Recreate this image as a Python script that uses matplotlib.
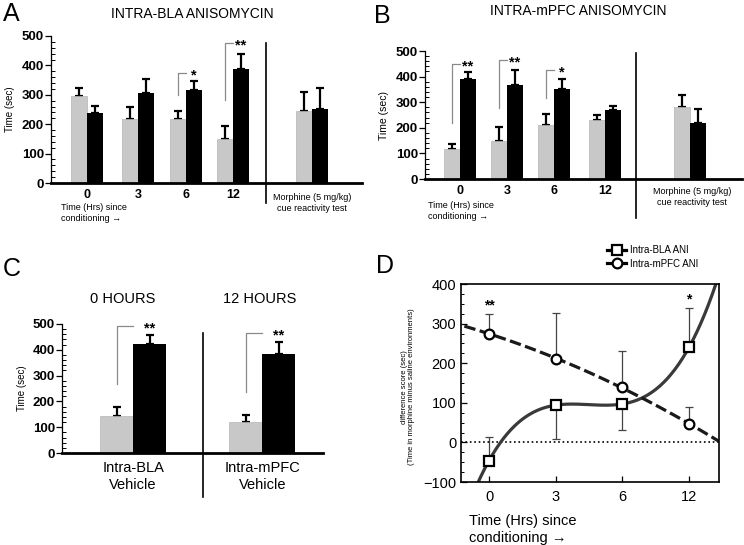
import numpy as np
import matplotlib.pyplot as plt
from matplotlib.lines import Line2D
from matplotlib.ticker import MultipleLocator

plt.rcParams['font.family'] = ['Liberation Sans', 'DejaVu Sans']

GRAY = '#c8c8c8'
BRACKET = '#8a8a8a'

# ---- data -------------------------------------------------------------
hours = ['0', '3', '6', '12']
morph_test = 'Morphine (5 mg/kg)\ncue reactivity test'

# A: intra-BLA anisomycin (gray = saline side, black = morphine side)
a_gray = [295, 217, 217, 151, 244]
a_gray_err = [29, 42, 27, 42, 66]
a_black = [239, 307, 316, 389, 253]
a_black_err = [22, 46, 31, 51, 69]
a_sig = [(2, 299, 375, '*'), (3, 282, 475, '**')]

# B: intra-mPFC anisomycin
b_gray = [117, 150, 210, 229, 282]
b_gray_err = [19, 52, 44, 22, 47]
b_black = [389, 368, 350, 269, 218]
b_black_err = [28, 59, 41, 16, 55]
b_sig = [(0, 218, 448, '**'), (1, 276, 464, '**'), (2, 317, 425, '*')]

# C: vehicle controls
c_groups = ['Intra-BLA\nVehicle', 'Intra-mPFC\nVehicle']
c_titles = ['0 HOURS', '12 HOURS']
c_gray = [142, 120]
c_gray_err = [36, 26]
c_black = [423, 384]
c_black_err = [33, 45]
c_sig = [(0, 267, 491, '**'), (1, 235, 465, '**')]

# D: difference scores
d_bla = [-46, 94, 97, 240]
d_bla_lo = [0, 85, 65, 0]
d_bla_hi = [60, 0, 0, 99]
d_mpfc = [275, 211, 139, 47]
d_mpfc_hi = [50, 115, 93, 43]
d_sig = [(0, 345, '**'), (3, 362, '*')]


fig = plt.figure(figsize=(7.44, 5.45), dpi=100)


def px(l, t, r, b):
    W, H = 744.0, 545.0
    return [l / W, (H - b) / H, (r - l) / W, (b - t) / H]


def bar_panel(ax, pos, g, ge, k, ke, w, sig):
    pos = np.asarray(pos, dtype=float)
    n = len(g)
    ax.bar(pos[:n] - w / 2, g, w, color=GRAY, edgecolor='#b5b5b5', lw=0.5, zorder=2)
    ax.bar(pos[:n] + w / 2, k, w, color='black', zorder=2)
    for xs, v, e in ((pos[:n] - w / 2, g, ge), (pos[:n] + w / 2, k, ke)):
        ax.errorbar(xs, v, yerr=[np.zeros(n), e], fmt='none', ecolor='black',
                    elinewidth=1.6, capsize=3, capthick=1.6, zorder=1)
    for i, y0, y1, s in sig:
        xg = pos[i] - w / 2
        ax.plot([xg, xg, pos[i]], [y0, y1, y1], color=BRACKET, lw=0.9)
        ax.text(pos[i] + w / 2, y1 - 8, s, ha='center', va='center',
                fontsize=10.5, fontweight='bold')
    ax.set_ylim(0, 500)
    ax.spines[['top', 'right']].set_visible(False)
    ax.spines['bottom'].set_linewidth(2)
    ax.spines['left'].set_linewidth(0.9)
    ax.yaxis.set_major_locator(MultipleLocator(100))
    ax.yaxis.set_minor_locator(MultipleLocator(20))
    ax.tick_params(axis='y', which='major', direction='out', length=4, width=0.9,
                   labelsize=9.5, pad=1)
    ax.tick_params(axis='y', which='minor', direction='in', length=3, width=0.7)
    ax.tick_params(axis='x', length=0, labelsize=9, pad=4)
    for lab in ax.get_yticklabels():
        lab.set_fontweight('bold')


# ---- A ----------------------------------------------------------------
ax_a = fig.add_axes(px(51, 36, 362, 183))
a_pos = [0, 1.06, 2.06, 3.04, 4.69]
bar_panel(ax_a, a_pos, a_gray, a_gray_err, a_black, a_black_err, 0.33, a_sig)
ax_a.set_xlim(-0.75, 5.73)
ax_a.set_xticks(a_pos[:4], hours, fontweight='bold')
ax_a.axvline(3.73, ymin=-0.136, ymax=0.952, color='black', lw=1.2, clip_on=False)
ax_a.text(a_pos[4], -0.136, morph_test, transform=ax_a.get_xaxis_transform(),
          ha='center', va='center', fontsize=6.5, linespacing=1.2)
ax_a.text(-0.54, -0.205, 'Time (Hrs) since\nconditioning \u2192',
          transform=ax_a.get_xaxis_transform(), ha='left', va='center',
          fontsize=6.5, linespacing=1.2)
ax_a.set_ylabel('Time (sec)', fontsize=7, labelpad=5)
fig.text(192 / 744, 0.974, 'INTRA-BLA ANISOMYCIN', ha='center', va='center', fontsize=10)

# ---- B ----------------------------------------------------------------
ax_b = fig.add_axes(px(425, 51, 742, 179))
b_pos = [0, 0.98, 1.96, 3.02, 4.79]
bar_panel(ax_b, b_pos, b_gray, b_gray_err, b_black, b_black_err, 0.33, b_sig)
ax_b.set_xlim(-0.73, 5.875)
ax_b.set_xticks(b_pos[:4], hours, fontweight='bold')
ax_b.axvline(3.67, ymin=-0.305, ymax=0.984, color='black', lw=1.2, clip_on=False)
ax_b.text(4.83, -0.14, morph_test, transform=ax_b.get_xaxis_transform(),
          ha='center', va='center', fontsize=6.5, linespacing=1.2)
ax_b.text(-0.67, -0.25, 'Time (Hrs) since\nconditioning \u2192',
          transform=ax_b.get_xaxis_transform(), ha='left', va='center',
          fontsize=6.5, linespacing=1.2)
ax_b.set_ylabel('Time (sec)', fontsize=7.5, labelpad=5)
fig.text(578 / 744, 0.98, 'INTRA-mPFC ANISOMYCIN', ha='center', va='center', fontsize=10)

# ---- C ----------------------------------------------------------------
ax_c = fig.add_axes(px(62, 324, 323, 453))
c_pos = [0, 1]
bar_panel(ax_c, c_pos, c_gray, c_gray_err, c_black, c_black_err, 0.256, c_sig)
ax_c.set_xlim(-0.55, 1.47)
ax_c.set_xticks(c_pos, c_groups)
ax_c.tick_params(axis='x', labelsize=10.5, pad=6)
ax_c.axvline(0.54, ymin=-0.34, ymax=0.93, color='black', lw=1.2, clip_on=False)
ax_c.set_ylabel('Time (sec)', fontsize=7, labelpad=4)
for x, t in zip([-0.08, 0.98], c_titles):
    ax_c.text(x, 1.19, t, transform=ax_c.get_xaxis_transform(), ha='center',
              va='center', fontsize=10.5)

# ---- D ----------------------------------------------------------------
ax_d = fig.add_axes(px(461, 284, 719, 482))
d_pos = np.arange(len(hours))
xx = np.linspace(-0.6, 3.6, 300)
ax_d.plot(xx, np.polyval(np.polyfit(d_pos, d_bla, 3), xx), color='#3a3a3a', lw=2.3, zorder=2)
ax_d.plot(xx, np.polyval(np.polyfit(d_pos, d_mpfc, 2), xx), color='#1a1a1a', lw=2.3,
          dashes=(3.6, 1.4), zorder=2)
ax_d.errorbar(d_pos, d_bla, yerr=[d_bla_lo, d_bla_hi], fmt='none', ecolor='#444444',
              elinewidth=0.9, capsize=3, capthick=0.9, zorder=1)
ax_d.errorbar(d_pos, d_mpfc, yerr=[np.zeros(4), d_mpfc_hi], fmt='none', ecolor='#444444',
              elinewidth=0.9, capsize=3, capthick=0.9, zorder=1)
ax_d.plot(d_pos, d_bla, 's', ms=6.5, mfc='white', mec='black', mew=1.6, zorder=3)
ax_d.plot(d_pos, d_mpfc, 'o', ms=7, mfc='white', mec='black', mew=1.6, zorder=3)
ax_d.axhline(0, color='black', ls=':', lw=1.2, zorder=1)
for i, y, s in d_sig:
    ax_d.text(i, y, s, ha='center', va='center', fontsize=10, fontweight='bold')
ax_d.set_xlim(-0.42, 3.45)
ax_d.set_ylim(-100, 400)
ax_d.set_xticks(d_pos, hours)
ax_d.yaxis.set_major_locator(MultipleLocator(100))
ax_d.yaxis.set_minor_locator(MultipleLocator(25))
ax_d.tick_params(axis='both', which='major', direction='in', length=4, width=0.9,
                 labelsize=10.5)
ax_d.tick_params(axis='y', which='minor', direction='in', length=2.5, width=0.7)
ax_d.tick_params(axis='x', pad=6)
for s in ax_d.spines.values():
    s.set_linewidth(1.2)
ax_d.text(-0.205, 0.48, 'difference score (sec)\n(Time in morphine minus saline environments)',
          transform=ax_d.transAxes, rotation=90, ha='center', va='center',
          fontsize=5.5, linespacing=1.1)
ax_d.text(0.03, -0.24, 'Time (Hrs) since\nconditioning \u2192', transform=ax_d.transAxes,
          ha='left', va='center', fontsize=10.5, linespacing=1.2)
handles = [Line2D([], [], color='black', lw=2.3, marker='s', ms=7, mfc='white', mew=1.6),
           Line2D([], [], color='black', lw=2.3, marker='o', ms=7, mfc='white', mew=1.6)]
fig.legend(handles, ['Intra-BLA ANI', 'Intra-mPFC ANI'], loc='center left',
           bbox_to_anchor=(607 / 744, (545 - 257) / 545), frameon=False, fontsize=7,
           handlelength=2.0, handletextpad=0.4, labelspacing=0.35, borderpad=0,
           borderaxespad=0)

# panel letters
for x, y, t in [(3, 2, 'A'), (374, 4, 'B'), (3, 257, 'C'), (376, 254, 'D')]:
    fig.text(x / 744, 1 - y / 545, t, ha='left', va='top', fontsize=18)

fig.savefig('out.png', dpi=100)
